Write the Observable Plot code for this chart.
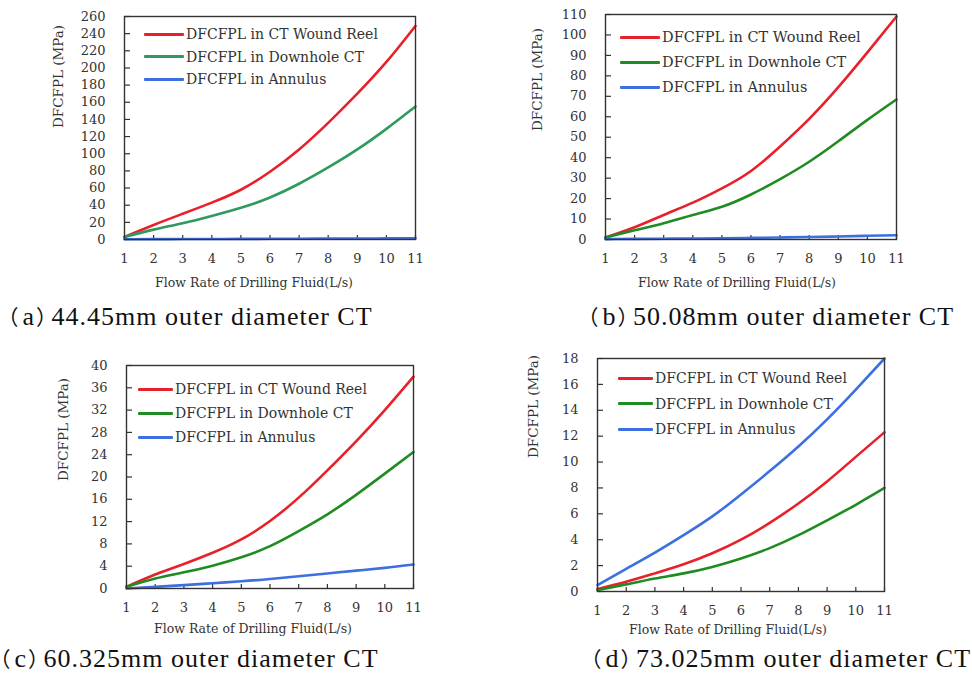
<!DOCTYPE html>
<html>
<head>
<meta charset="utf-8">
<script src="https://cdn.jsdelivr.net/npm/d3@7"></script>
<script src="https://cdn.jsdelivr.net/npm/@observablehq/plot@0.6"></script>
<style>
  html, body { margin: 0; padding: 0; background: #fff; }
  #root { position: relative; width: 972px; height: 675px; overflow: hidden; background: #fff; }
  .panel { position: absolute; }
  .legend { position: absolute; font-family: "DejaVu Serif", serif; color: #333; }
  .legend .row { position: absolute; left: 0; display: flex; align-items: center; white-space: nowrap; }
  .legend .sw { height: 3px; margin-right: 2px; border-radius: 1px; }
  .caption { position: absolute; font-family: "Liberation Serif", "Times New Roman", serif; font-size: 26px; letter-spacing: 1px; color: #111; white-space: nowrap; line-height: 1; }
  .caption .p { font-family: "Noto Sans CJK SC", sans-serif; font-size: 21px; letter-spacing: 0; font-feature-settings: "halt"; }
  .caption .p1 { margin-right: 4px; }
  .caption .p2 { margin-left: 1px; margin-right: 5px; }
</style>
</head>
<body>
<div id="root"></div>
<script>
// ---------- data ----------
const flowRate = [1, 2, 3, 4, 5, 6, 7, 8, 9, 10, 11];
const xTickLabels = [1, 2, 3, 4, 5, 6, 7, 8, 9, 10, 11];
const seriesNames = ["DFCFPL in CT Wound Reel", "DFCFPL in Downhole CT", "DFCFPL in Annulus"];

// (a) 44.45 mm
const aReel = [3, 17, 30, 43, 58, 79, 105, 136, 170, 207, 249];
const aDownhole = [3, 11.5, 19, 27.5, 37, 49, 65, 84, 105, 129, 155];
const aAnnulus = [0.3, 0.4, 0.5, 0.6, 0.7, 0.8, 0.9, 1.0, 1.1, 1.3, 1.5];
const aYTicks = [0, 20, 40, 60, 80, 100, 120, 140, 160, 180, 200, 220, 240, 260];

// (b) 50.08 mm
const bReel = [1, 6, 12, 18, 25, 33.5, 45.5, 59, 74.5, 91.5, 109];
const bDownhole = [1, 4.5, 8, 12, 16, 22, 29.5, 38, 48, 58.5, 68.5];
const bAnnulus = [0.2, 0.3, 0.4, 0.5, 0.6, 0.8, 1.0, 1.2, 1.5, 1.8, 2.1];
const bYTicks = [0, 10, 20, 30, 40, 50, 60, 70, 80, 90, 100, 110];

// (c) 60.325 mm
const cReel = [0.3, 2.5, 4.4, 6.4, 8.8, 12.1, 16.3, 21.2, 26.4, 32, 38];
const cDownhole = [0.3, 1.8, 2.9, 4.1, 5.6, 7.6, 10.3, 13.3, 16.8, 20.6, 24.5];
const cAnnulus = [0, 0.3, 0.6, 0.95, 1.3, 1.7, 2.2, 2.7, 3.2, 3.7, 4.3];
const cYTicks = [0, 4, 8, 12, 16, 20, 24, 28, 32, 36, 40];

// (d) 73.025 mm
const dReel = [0.2, 0.75, 1.4, 2.1, 2.95, 4.0, 5.3, 6.8, 8.5, 10.4, 12.3];
const dDownhole = [0.1, 0.55, 1.0, 1.4, 1.9, 2.55, 3.35, 4.35, 5.5, 6.7, 8.0];
const dAnnulus = [0.5, 1.75, 3.0, 4.35, 5.8, 7.5, 9.3, 11.2, 13.3, 15.6, 18];
const dYTicks = [0, 2, 4, 6, 8, 10, 12, 14, 16, 18];

const captions = ["44.45mm outer diameter CT", "50.08mm outer diameter CT", "60.325mm outer diameter CT", "73.025mm outer diameter CT"];
const captionLetters = ["a", "b", "c", "d"];
const xTitle = "Flow Rate of Drilling Fluid(L/s)";
const yTitle = "DFCFPL (MPa)";

// ---------- layout ----------
const RED = "#e8202a", BLUE = "#3c6fe0";
const panels = [
  {series: [aReel, aDownhole, aAnnulus], yTicks: aYTicks, green: "#2e9a5e",
   left: 0, top: 0, width: 430, height: 300, mL: 124, mR: 15, mT: 16, mB: 61,
   xtDx: -16, xtDy: 47, ytDx: -66, ytDy: 0,
   legend: {x: 144, y: 34, gap: 22.5, sw: 40, fs: 14},
   cap: {x: 8, y: 304}},
  {series: [bReel, bDownhole, bAnnulus], yTicks: bYTicks, green: "#1f8c22",
   left: 490, top: 0, width: 482, height: 300, mL: 115, mR: 76, mT: 14, mB: 61,
   xtDx: -14, xtDy: 47, ytDx: -68, ytDy: 4,
   legend: {x: 620, y: 37, gap: 25, sw: 40, fs: 14.5},
   cap: {x: 588, y: 304}},
  {series: [cReel, cDownhole, cAnnulus], yTicks: cYTicks, green: "#1f8c22",
   left: 0, top: 340, width: 430, height: 300, mL: 126, mR: 17, mT: 25, mB: 52,
   xtDx: -17, xtDy: 44, ytDx: -63, ytDy: 4,
   legend: {x: 138, y: 389, gap: 24, sw: 35, fs: 14},
   cap: {x: 0, y: 646}},
  {series: [dReel, dDownhole, dAnnulus], yTicks: dYTicks, green: "#1f8c22",
   left: 490, top: 340, width: 482, height: 300, mL: 107, mR: 88, mT: 18, mB: 49,
   xtDx: -13, xtDy: 42, ytDx: -64, ytDy: -17,
   legend: {x: 618, y: 378, gap: 25.5, sw: 35, fs: 14},
   cap: {x: 591, y: 646}}
];

const TICK_LEN = 5;

const root = document.getElementById("root");

panels.forEach((p, i) => {
  const colors = [RED, p.green, BLUE];
  const rows = [];
  p.series.forEach((vals, s) => vals.forEach((v, k) => rows.push({x: flowRate[k], y: v, s: seriesNames[s]})));
  const yMax = p.yTicks[p.yTicks.length - 1];

  const chart = Plot.plot({
    width: p.width, height: p.height,
    marginLeft: p.mL, marginRight: p.mR, marginTop: p.mT, marginBottom: p.mB,
    style: {fontFamily: "DejaVu Serif, serif", fontSize: "13px", color: "#333", background: "transparent", overflow: "visible"},
    x: {domain: [1, 11]},
    y: {domain: [0, yMax]},
    color: {domain: seriesNames, range: colors},
    marks: [
      Plot.axisX(xTickLabels, {tickSize: 0, tickPadding: 14, label: null, fontSize: 13}),
      Plot.axisY(p.yTicks, {tickSize: 0, tickPadding: 19, label: null, fontSize: 13}),
      // inward tick marks: a top-anchored x axis drawn at the bottom edge, a right-anchored y axis drawn at the left edge
      Plot.axisX(xTickLabels, {anchor: "top", frameAnchor: "bottom", tickSize: TICK_LEN, tickFormat: () => "", label: null, stroke: "#333", strokeWidth: 1.2}),
      Plot.axisY(p.yTicks, {anchor: "right", frameAnchor: "left", tickSize: TICK_LEN, tickFormat: () => "", label: null, stroke: "#333", strokeWidth: 1.2}),
      Plot.line(rows, {x: "x", y: "y", z: "s", stroke: "s", strokeWidth: 2.6, curve: "natural"}),
      Plot.frame({stroke: "#333", strokeWidth: 1.4}),
      Plot.text([xTitle], {frameAnchor: "bottom", dx: p.xtDx, dy: p.xtDy, fontSize: 12.5, fill: "#333"}),
      Plot.text([yTitle], {frameAnchor: "left", dx: p.ytDx, dy: p.ytDy, rotate: -90, fontSize: 13.5, fill: "#333"})
    ]
  });
  chart.classList.add("panel");
  chart.style.left = p.left + "px";
  chart.style.top = p.top + "px";
  root.appendChild(chart);

  // legend
  const lg = document.createElement("div");
  lg.className = "legend";
  lg.style.left = p.legend.x + "px";
  lg.style.top = "0px";
  seriesNames.forEach((name, s) => {
    const row = document.createElement("div");
    row.className = "row";
    row.style.top = (p.legend.y + s * p.legend.gap - 10) + "px";
    row.style.height = "20px";
    row.style.fontSize = p.legend.fs + "px";
    const sw = document.createElement("span");
    sw.className = "sw";
    sw.style.width = p.legend.sw + "px";
    sw.style.background = colors[s];
    const tx = document.createElement("span");
    tx.textContent = name;
    row.appendChild(sw);
    row.appendChild(tx);
    lg.appendChild(row);
  });
  root.appendChild(lg);

  // caption
  const cap = document.createElement("div");
  cap.className = "caption";
  cap.style.left = p.cap.x + "px";
  cap.style.top = p.cap.y + "px";
  cap.innerHTML = '<span class="p p1">（</span>' + captionLetters[i] + '<span class="p p2">）</span>' + captions[i];
  root.appendChild(cap);
});
</script>
</body>
</html>
